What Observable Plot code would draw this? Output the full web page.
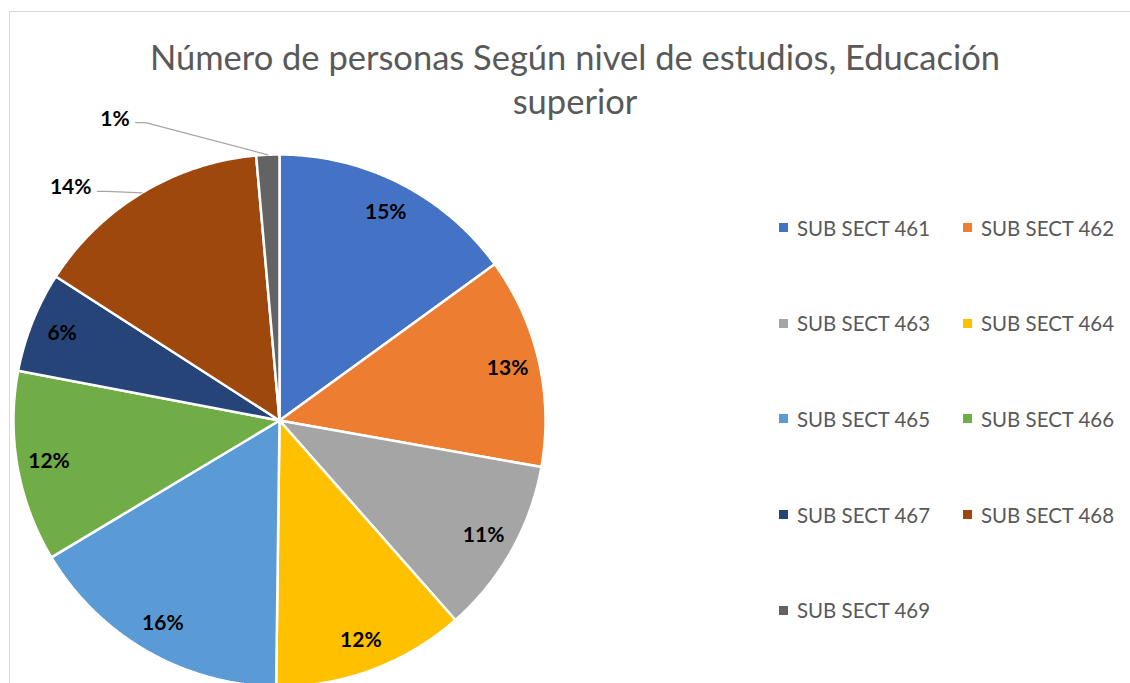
<!DOCTYPE html>
<html><head><meta charset="utf-8">
<script src="https://cdn.jsdelivr.net/npm/d3@7"></script>
<script src="https://cdn.jsdelivr.net/npm/@observablehq/plot@0.6"></script>
<style>
html,body{margin:0;padding:0;background:#fff;}
#wrap{position:relative;width:1130px;height:683px;overflow:hidden;font-family:Lato,"Open Sans",sans-serif;}
#frame{position:absolute;left:9px;top:11px;width:1400px;height:1000px;border:1.5px solid #d9d9d9;box-sizing:border-box;}
#chart{position:absolute;left:0;top:0;}
#title{position:absolute;left:0;width:1150px;top:35px;text-align:center;color:#595959;font-size:31px;line-height:44px;white-space:nowrap;}
#legend{position:absolute;left:779px;top:180px;display:grid;grid-template-columns:184px 184px;grid-auto-rows:95.6px;}
.item{display:flex;align-items:center;color:#595959;font-size:21px;white-space:nowrap;}
.sw{width:9px;height:9px;margin-right:9px;flex:none;}
</style></head>
<body>
<div id="wrap">
  <div id="frame"></div>
  <div id="chart"></div>
  <div id="title"><span id="t1">Número de personas Según nivel de estudios, Educación</span><br><span>superior</span></div>
  <div id="legend"></div>
</div>
<script>
const categories = ["SUB SECT 461","SUB SECT 462","SUB SECT 463","SUB SECT 464","SUB SECT 465","SUB SECT 466","SUB SECT 467","SUB SECT 468","SUB SECT 469"];
const values = [15.0, 12.8, 10.7, 11.7, 16.2, 11.6, 6.1, 14.5, 1.4];
const colors = ["#4472C4","#ED7D31","#A5A5A5","#FFC000","#5B9BD5","#70AD47","#264478","#9E480E","#636363"];

// layout (not data): leader-line elbows for labels drawn outside the pie, in polar units
const outsideLabels = {
  "SUB SECT 468": {r: 1.077, angle: 323.1},
  "SUB SECT 469": {r: 1.228, angle: 335.8}
};
const cx = 279, cy = 420, R = 266;

const total = d3.sum(values);
const arcs = d3.pie().sort(null).value(d => d)(values);
const pt = (a, r) => ({x: r * Math.sin(a), y: r * Math.cos(a)});

const sliceRows = [];
const insideRows = [];
const leaderRows = [];
const outsideRows = [];
arcs.forEach((a, i) => {
  const key = categories[i];
  sliceRows.push({key, ...pt(0, 0)});
  const n = Math.max(2, Math.ceil((a.endAngle - a.startAngle) / (Math.PI / 360)));
  for (let k = 0; k <= n; k++) {
    sliceRows.push({key, ...pt(a.startAngle + (a.endAngle - a.startAngle) * k / n, 1)});
  }
  const label = Math.round(values[i] / total * 100) + "%";
  const mid = (a.startAngle + a.endAngle) / 2;
  const o = outsideLabels[key];
  if (o) {
    const edge = pt(mid, 1);
    const elbow = pt(o.angle * Math.PI / 180, o.r);
    const tail = {x: elbow.x - 10 / R, y: elbow.y};
    leaderRows.push({key, ...edge}, {key, ...elbow}, {key, ...tail});
    outsideRows.push({key, label, ...tail});
  } else {
    insideRows.push({key, label, ...pt(mid, 0.88)});
  }
});

const chart = Plot.plot({
  width: 1130, height: 683,
  margin: 0,
  style: {fontFamily: "Lato, 'Open Sans', sans-serif", background: "transparent"},
  x: {domain: [-1, 1], range: [cx - R, cx + R], axis: null},
  y: {domain: [-1, 1], range: [cy + R, cy - R], axis: null},
  color: {domain: categories, range: colors},
  marks: [
    Plot.line(sliceRows, {x: "x", y: "y", z: "key", fill: "key", stroke: "white", strokeWidth: 2.5, curve: "linear-closed", strokeLinejoin: "miter"}),
    Plot.text(insideRows, {x: "x", y: "y", text: "label", fill: "black", fontSize: 21, fontWeight: "bold"}),
    Plot.line(leaderRows, {x: "x", y: "y", z: "key", stroke: "#A6A6A6", strokeWidth: 1.3}),
    Plot.text(outsideRows, {x: "x", y: "y", text: "label", fill: "black", fontSize: 21, fontWeight: "bold", textAnchor: "end", lineAnchor: "bottom", dx: -6, dy: 3})
  ]
});
document.getElementById("chart").appendChild(chart);

const legend = d3.select("#legend");
categories.forEach((c, i) => {
  const it = legend.append("div").attr("class", "item");
  it.append("div").attr("class", "sw").style("background", colors[i]);
  it.append("span").attr("class", "lt").text(c);
});

function fit() {
  const t1 = document.getElementById("t1");
  const title = document.getElementById("title");
  const w = t1.getBoundingClientRect().width;
  const fs = parseFloat(getComputedStyle(title).fontSize);
  title.style.fontSize = (fs * 850 / w) + "px";
  const lt = document.querySelector(".lt");
  const lw = lt.getBoundingClientRect().width;
  const lfs = parseFloat(getComputedStyle(lt).fontSize);
  document.querySelectorAll(".item").forEach(e => e.style.fontSize = (lfs * 133 / lw) + "px");
}
fit();
if (document.fonts) document.fonts.ready.then(fit);
</script>
</body></html>
